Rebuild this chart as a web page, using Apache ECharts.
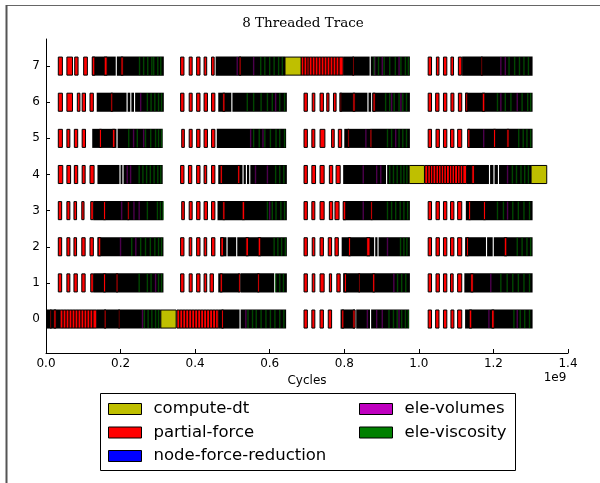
<!DOCTYPE html>
<html><head><meta charset="utf-8">
<script src="https://cdn.jsdelivr.net/npm/echarts@6/dist/echarts.min.js"></script>
<style>html,body{margin:0;padding:0;background:#fff}#c{width:600px;height:483px}</style>
</head><body><div id="c"></div>
<script>
// Units: x in 1e9 cycles, y = thread index
const threads = [0,1,2,3,4,5,6,7];
const xTickValues = [0,0.2,0.4,0.6,0.8,1.0,1.2,1.4];
const categories = ['compute-dt','partial-force','node-force-reduction','ele-volumes','ele-viscosity'];
const catColors = ['#bfbf00','#ff0000','#0000ff','#bf00bf','#008000'];

// [thread, [[start, end], ...]]
const computeDt = [
  [7, [[0.641,0.684]]],
  [4, [[0.974,1.015],[1.301,1.343]]],
  [0, [[0.308,0.349]]]
];
const partialForce = [
  [7, [[0.033,0.044],[0.056,0.071],[0.077,0.086],[0.101,0.111],[0.124,0.131],[0.156,0.164],[0.201,0.207],
       [0.361,0.370],[0.384,0.392],[0.404,0.413],[0.424,0.431],[0.444,0.451],[0.518,0.523],
       [0.684,0.692],[0.692,0.700],[0.700,0.706],[0.706,0.714],[0.714,0.722],[0.722,0.730],[0.730,0.738],
       [0.738,0.746],[0.746,0.754],[0.754,0.762],[0.762,0.770],[0.770,0.778],[0.778,0.786],[0.786,0.797],
       [0.822,0.826],[1.025,1.034],[1.047,1.054],[1.066,1.075],[1.086,1.093],[1.106,1.115],[1.167,1.171]]],
  [6, [[0.033,0.044],[0.056,0.071],[0.084,0.091],[0.097,0.106],[0.118,0.127],[0.174,0.179],
       [0.361,0.370],[0.384,0.392],[0.404,0.413],[0.424,0.433],[0.444,0.453],[0.474,0.480],
       [0.692,0.701],[0.714,0.721],[0.735,0.744],[0.753,0.759],[0.771,0.778],[0.789,0.793],[0.823,0.829],[0.877,0.883],
       [1.025,1.034],[1.045,1.054],[1.066,1.075],[1.086,1.094],[1.106,1.115],[1.126,1.131],[1.170,1.177]]],
  [5, [[0.033,0.044],[0.056,0.064],[0.076,0.085],[0.097,0.106],[0.143,0.149],[0.178,0.185],
       [0.364,0.371],[0.384,0.392],[0.404,0.413],[0.424,0.433],[0.444,0.453],
       [0.692,0.701],[0.713,0.721],[0.735,0.748],[0.766,0.773],[0.784,0.793],[0.809,0.813],[0.869,0.874],
       [1.025,1.034],[1.046,1.055],[1.066,1.075],[1.085,1.094],[1.104,1.115],[1.131,1.137],[1.200,1.206],[1.236,1.242]]],
  [4, [[0.033,0.045],[0.056,0.066],[0.076,0.085],[0.097,0.105],[0.118,0.129],
       [0.361,0.370],[0.382,0.391],[0.404,0.413],[0.424,0.431],[0.444,0.453],[0.467,0.473],[0.514,0.520],
       [0.692,0.701],[0.713,0.723],[0.735,0.746],[0.760,0.769],[0.778,0.789],
       [1.016,1.024],[1.024,1.031],[1.031,1.038],[1.038,1.046],[1.046,1.053],[1.053,1.060],[1.060,1.067],
       [1.067,1.074],[1.074,1.082],[1.082,1.089],[1.089,1.096],[1.096,1.104],[1.104,1.111],[1.111,1.118],
       [1.118,1.128],[1.142,1.149]]],
  [3, [[0.033,0.042],[0.056,0.064],[0.075,0.082],[0.096,0.102],[0.120,0.127],[0.154,0.160],[0.218,0.223],
       [0.364,0.371],[0.384,0.392],[0.404,0.413],[0.424,0.433],[0.444,0.453],[0.474,0.480],[0.526,0.533],
       [0.692,0.701],[0.713,0.721],[0.735,0.746],[0.760,0.769],[0.775,0.786],[0.797,0.804],[0.871,0.876],
       [1.025,1.034],[1.046,1.055],[1.066,1.075],[1.085,1.094],[1.104,1.115],[1.133,1.139],[1.173,1.179]]],
  [2, [[0.033,0.042],[0.056,0.064],[0.075,0.082],[0.096,0.105],[0.118,0.127],[0.140,0.147],
       [0.361,0.370],[0.384,0.391],[0.404,0.413],[0.424,0.431],[0.444,0.453],[0.469,0.476],[0.536,0.543],[0.569,0.576],
       [0.692,0.701],[0.714,0.721],[0.735,0.744],[0.757,0.766],[0.775,0.784],[0.811,0.817],[0.860,0.869],
       [1.025,1.034],[1.046,1.055],[1.066,1.075],[1.085,1.094],[1.104,1.115],[1.128,1.133],[1.229,1.236]]],
  [1, [[0.033,0.042],[0.056,0.064],[0.075,0.084],[0.096,0.105],[0.120,0.127],[0.154,0.160],[0.188,0.193],
       [0.361,0.370],[0.384,0.392],[0.404,0.413],[0.424,0.431],[0.440,0.449],[0.467,0.473],[0.516,0.521],[0.567,0.572],
       [0.692,0.701],[0.714,0.721],[0.735,0.746],[0.760,0.766],[0.780,0.789],[0.800,0.806],[0.838,0.842],[0.876,0.882],
       [1.025,1.034],[1.046,1.055],[1.066,1.075],[1.085,1.092],[1.104,1.115],[1.139,1.146]]],
  [0, [[0.011,0.015],[0.021,0.027],
       [0.038,0.046],[0.046,0.054],[0.054,0.062],[0.062,0.070],[0.070,0.078],[0.078,0.086],[0.086,0.094],
       [0.094,0.102],[0.102,0.110],[0.110,0.118],[0.118,0.126],[0.126,0.136],[0.156,0.161],[0.194,0.198],
       [0.351,0.359],[0.359,0.367],[0.367,0.375],[0.375,0.383],[0.383,0.391],[0.391,0.399],[0.399,0.407],
       [0.407,0.415],[0.415,0.423],[0.423,0.431],[0.431,0.439],[0.439,0.447],[0.447,0.455],[0.455,0.462],
       [0.471,0.476],[0.692,0.701],[0.713,0.721],[0.735,0.744],[0.757,0.766],[0.793,0.799],[0.823,0.829],
       [1.025,1.034],[1.045,1.054],[1.066,1.075],[1.086,1.094],[1.104,1.115],[1.135,1.142],[1.195,1.202]]]
];
const nodeForceReduction = [];
// dense clusters of very short tasks (drawn as black, edge-dominated)
const busy = [
  [7, [[0.124,0.187],[0.190,0.316],[0.455,0.641],[0.797,0.868],[0.871,0.976],[1.116,1.305]]],
  [6, [[0.136,0.216],[0.219,0.226],[0.229,0.236],[0.239,0.316],[0.462,0.497],[0.500,0.646],
       [0.787,0.862],[0.865,0.872],[0.875,0.976],[1.124,1.305]]],
  [5, [[0.124,0.189],[0.192,0.313],[0.458,0.644],[0.800,0.870],[0.873,0.976],[1.131,1.305]]],
  [4, [[0.138,0.197],[0.200,0.205],[0.208,0.313],[0.462,0.527],[0.530,0.536],[0.539,0.545],[0.548,0.646],
       [0.797,0.912],[0.915,0.974],[1.128,1.188],[1.191,1.200],[1.203,1.212],[1.215,1.301]]],
  [3, [[0.127,0.315],[0.460,0.646],[0.797,0.976],[1.126,1.305]]],
  [2, [[0.138,0.315],[0.467,0.484],[0.487,0.510],[0.513,0.646],[0.793,0.880],[0.883,0.889],[0.892,0.976],
       [1.124,1.180],[1.183,1.198],[1.201,1.305]]],
  [1, [[0.127,0.315],[0.462,0.519],[0.522,0.612],[0.615,0.646],[0.797,0.976],[1.122,1.305]]],
  [0, [[0.000,0.038],[0.136,0.308],[0.462,0.519],[0.522,0.644],[0.790,0.829],[0.832,0.869],[0.872,0.974],[1.124,1.305]]]
];
// [thread, [start times of very short tasks]]
const eleVolumes = [
  [7, [0.511,0.555,0.880,0.900,0.945,1.218,1.230]],
  [6, [0.252,0.614,0.925,0.950,1.218,1.262]],
  [5, [0.233,0.260,0.547,0.580,0.856,0.936,1.172]],
  [4, [0.216,0.225,0.560,0.592,0.849,0.885,0.896,1.236]],
  [3, [0.201,0.234,0.248,0.598,0.849,1.236]],
  [2, [0.198,0.239,0.914]],
  [1, [0.292,0.931,1.191]],
  [0, [0.257,0.534,0.860,0.885,0.900,0.945,1.186,1.262]]
];
const eleViscosity = [
  [7, [0.249,0.260,0.271,0.282,0.287,0.298,0.306,0.574,0.585,0.598,0.610,0.622,0.632,
       0.878,0.890,0.905,0.920,0.935,0.950,0.962,0.970,1.240,1.255,1.268,1.280,1.292]],
  [6, [0.270,0.280,0.290,0.300,0.308,0.538,0.555,0.575,0.592,0.605,0.625,0.638,
       0.909,0.920,0.932,0.945,0.955,0.965,1.209,1.230,1.245,1.275,1.290,1.298]],
  [5, [0.220,0.243,0.265,0.279,0.292,0.300,0.308,0.555,0.570,0.585,0.600,0.615,0.625,0.638,
       0.914,0.925,0.945,0.955,0.965,1.266,1.278,1.288,1.298]],
  [4, [0.248,0.258,0.268,0.278,0.288,0.298,0.306,0.614,0.625,0.636,
       0.920,0.930,0.940,0.950,0.958,0.966,1.249,1.260,1.272,1.282,1.292]],
  [3, [0.270,0.297,0.305,0.312,0.592,0.605,0.615,0.628,0.638,
       0.914,0.925,0.936,0.948,0.958,0.968,1.209,1.225,1.250,1.265,1.280,1.295]],
  [2, [0.228,0.252,0.265,0.278,0.290,0.300,0.308,0.610,0.620,0.630,0.640,
       0.949,0.958,0.966,1.262,1.275,1.288,1.298]],
  [1, [0.248,0.270,0.280,0.300,0.308,0.614,0.625,0.635,0.941,0.952,0.963,
       1.218,1.235,1.250,1.265,1.280,1.295]],
  [0, [0.262,0.272,0.282,0.292,0.300,0.540,0.552,0.562,0.575,0.588,0.600,0.612,0.625,0.636,
       0.918,0.930,0.940,0.952,0.962,0.970,1.253,1.270,1.282,1.295]]
];

function flatIntervals(list){ const out=[]; list.forEach(([r,segs])=>segs.forEach(([s,e])=>out.push([r,s,e]))); return out; }
function flatEvents(list){ const out=[]; list.forEach(([r,ts])=>ts.forEach(t=>out.push([r,t]))); return out; }

function barRenderer(fill, withEdge){
  return function(params, api){
    const r = api.value(0);
    const a = api.coord([api.value(1), r]);
    const b = api.coord([api.value(2), r]);
    const h = api.size([0, 0.5])[1];
    if (withEdge) {
      return {type:'rect', shape:{x:a[0], y:a[1]-h/2, width:Math.max(b[0]-a[0],0.5), height:h},
              style:{fill:fill, stroke:'#000', lineWidth:1}};
    }
    return {type:'rect', shape:{x:a[0], y:a[1]-h/2-0.5, width:Math.max(b[0]-a[0],0.5), height:h+1},
            style:{fill:fill}};
  };
}
function tickRenderer(fill, opacity){
  return function(params, api){
    const p = api.coord([api.value(1), api.value(0)]);
    const h = api.size([0, 0.5])[1];
    return {type:'rect', shape:{x:p[0], y:p[1]-h/2, width:1.4, height:h}, style:{fill:fill, opacity:opacity}};
  };
}

const fontFam = 'DejaVu Sans';
const chart = echarts.init(document.getElementById('c'), null, {renderer:'canvas'});
const intervalSeries = (name, data, color) => ({
  type:'custom', name:name, data:flatIntervals(data), encode:{x:[1,2], y:0}, clip:true,
  itemStyle:{color:color}, renderItem:barRenderer(color, true), silent:true, animation:false
});
const eventSeries = (name, data, color, op) => ({
  type:'custom', name:name, data:flatEvents(data), encode:{x:1, y:0}, clip:true,
  itemStyle:{color:color}, renderItem:tickRenderer(color, op), silent:true, animation:false
});

const legendCommon = {
  orient:'vertical', top:400, padding:0, itemWidth:33, itemHeight:11, itemGap:5.5, icon:'rect', selectedMode:false,
  textStyle:{fontSize:16.5, fontFamily:fontFam, color:'#000', lineHeight:18, padding:[0,0,0,7]},
  itemStyle:{borderColor:'#000', borderWidth:1}, z:5
};

chart.setOption({
  animation:false,
  backgroundColor:'#fff',
  grid:{left:46, right:32, top:39, bottom:130},
  xAxis:{type:'value', min:0, max:1.4, interval:0.2,
    axisLine:{show:true, onZero:false, lineStyle:{color:'#000', width:1}},
    axisTick:{show:true, inside:true, length:4, lineStyle:{color:'#000'}},
    axisLabel:{fontSize:12, fontFamily:fontFam, color:'#000', margin:5, formatter:v=>v.toFixed(1)},
    splitLine:{show:false},
    name:'Cycles', nameLocation:'middle', nameGap:21, nameTextStyle:{fontSize:12, fontFamily:fontFam, color:'#000'}
  },
  yAxis:{type:'value', min:-0.94, max:7.75,
    axisLine:{show:true, onZero:false, lineStyle:{color:'#000', width:1}},
    axisTick:{show:true, inside:true, length:4, lineStyle:{color:'#000'}, customValues:threads},
    axisLabel:{fontSize:12, fontFamily:fontFam, color:'#000', margin:6, customValues:threads, formatter:v=>String(v)},
    splitLine:{show:false}
  },
  legend:[
    Object.assign({left:108, data:['compute-dt','partial-force','node-force-reduction']}, legendCommon),
    Object.assign({left:359, data:['ele-volumes','ele-viscosity']}, legendCommon)
  ],
  graphic:[
    {type:'line', shape:{x1:6, y1:5.5, x2:600, y2:5.5}, style:{stroke:'#666', lineWidth:1}, silent:true},
    {type:'line', shape:{x1:6.5, y1:5, x2:6.5, y2:483}, style:{stroke:'#555', lineWidth:2}, silent:true},
    {type:'rect', shape:{x:100.5, y:393.5, width:415, height:77}, style:{fill:'#fff', stroke:'#000', lineWidth:1}, z:1, silent:true},
    {type:'text', x:303, y:23, style:{text:'8 Threaded Trace', font:'13.5px "DejaVu Serif"', fill:'#000', textAlign:'center', textVerticalAlign:'middle'}, silent:true},
    {type:'text', x:555, y:378, style:{text:'1e9', font:'12px "DejaVu Sans"', fill:'#000', textAlign:'center', textVerticalAlign:'middle'}, silent:true}
  ],
  series:[
    {type:'custom', name:'busy', data:flatIntervals(busy), encode:{x:[1,2], y:0}, clip:true,
     itemStyle:{color:'#000'}, renderItem:barRenderer('#000', false), silent:true},
    intervalSeries('partial-force', partialForce, catColors[1]),
    intervalSeries('compute-dt', computeDt, catColors[0]),
    intervalSeries('node-force-reduction', nodeForceReduction, catColors[2]),
    eventSeries('ele-volumes', eleVolumes, catColors[3], 0.4),
    eventSeries('ele-viscosity', eleViscosity, catColors[4], 0.55)
  ]
});
</script></body></html>
